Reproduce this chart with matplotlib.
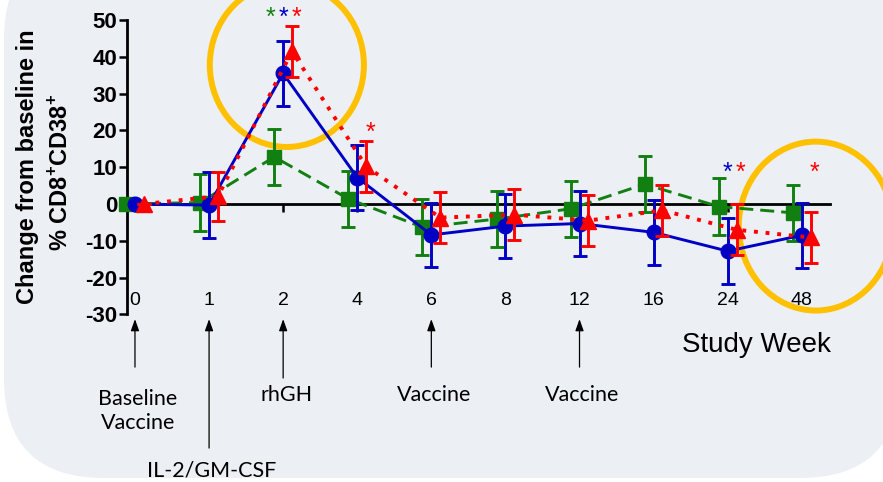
import matplotlib.pyplot as plt
from matplotlib.patches import Ellipse, FancyBboxPatch
from matplotlib.transforms import IdentityTransform, blended_transform_factory
import numpy as np

plt.rcParams['font.family'] = 'Liberation Sans'
plt.rcParams['mathtext.fontset'] = 'custom'
plt.rcParams['mathtext.rm'] = 'Liberation Sans'
plt.rcParams['mathtext.bf'] = 'Liberation Sans:bold'
plt.rcParams['axes.unicode_minus'] = False

#%% data
weeks = ['0', '1', '2', '4', '6', '8', '12', '16', '24', '48']
green_mean = [0, 0.4, 12.8, 1.4, -6.3, -4.1, -1.3, 5.4, -0.7, -2.4]
green_err = [0, 7.7, 7.6, 7.7, 7.6, 7.7, 7.6, 7.7, 7.7, 7.6]
blue_mean = [0, -0.3, 35.5, 7.2, -8.4, -6.0, -5.3, -7.7, -12.8, -8.5]
blue_err = [0, 9.0, 8.8, 8.8, 8.8, 8.8, 8.8, 8.9, 8.9, 8.9]
red_mean = [0, 2.1, 41.5, 10.2, -3.7, -2.9, -4.5, -1.7, -7.0, -9.1]
red_err = [0, 6.7, 6.9, 6.9, 6.9, 6.9, 6.9, 6.9, 6.9, 6.9]

# significance stars: week, series, level
star_weeks = ['2', '2', '2', '4', '24', '24', '48']
star_series = ['g', 'b', 'r', 'r', 'b', 'r', 'r']
star_level = [48.6, 48.6, 48.6, 17.4, 6.6, 6.6, 6.6]

# treatment annotations under the axis
ann_weeks = ['0', '1', '2', '6', '12']
ann_labels = ['Baseline\nVaccine', 'IL-2/GM-CSF', 'rhGH', 'Vaccine', 'Vaccine']

#%% plot
colors = {'g': '#118011', 'b': '#0000C4', 'r': '#FF0000'}
offsets = {'g': -0.12, 'b': 0.0, 'r': 0.12}
x = np.arange(len(weeks))

fig = plt.figure(figsize=(8.83, 4.82), dpi=100)
fig.patch.set_facecolor('white')
bg = FancyBboxPatch((4, 4), 896, 538, boxstyle='round,pad=0,rounding_size=100',
                    transform=IdentityTransform(), fc='#ECEFF4', ec='none', zorder=-10)
fig.add_artist(bg)

ax = fig.add_axes([0.1438, 0.3477, 0.7961, 0.6108])
ax.set_facecolor('none')

ax.errorbar(x + offsets['g'], green_mean, yerr=green_err, color=colors['g'], lw=2.1,
            ls=(0, (4.8, 2.4)), marker='s', ms=10, elinewidth=2.1, capsize=5, capthick=2.1,
            zorder=3, clip_on=False)
ax.errorbar(x + offsets['b'], blue_mean, yerr=blue_err, color=colors['b'], lw=2.1,
            ls='-', marker='o', ms=10.5, elinewidth=2.1, capsize=5, capthick=2.1,
            zorder=4, clip_on=False)
ax.errorbar(x + offsets['r'], red_mean, yerr=red_err, color=colors['r'], lw=2.8,
            ls=(0, (1.0, 2.0)), marker='^', ms=11.5, elinewidth=2.1, capsize=5, capthick=2.1,
            zorder=5, clip_on=False)

for w, s, lev in zip(star_weeks, star_series, star_level):
    ax.text(weeks.index(w) + offsets[s] * 1.45, lev, '*', color=colors[s], fontsize=18,
            ha='center', va='baseline', clip_on=False)

# highlight circles
ax.add_patch(Ellipse((2.05, 37.8), 2.08, 44.6, fill=False, ec='#FFC000', lw=4.3,
                     clip_on=False, zorder=2))
ax.add_patch(Ellipse((9.19, -6.0), 2.08, 45.9, fill=False, ec='#FFC000', lw=4.3,
                     clip_on=False, zorder=2))

ax.set_xlim(-0.108, 9.38)
ax.set_ylim(-30, 50)
ax.set_yticks(np.arange(-30, 51, 10))
ax.set_xticks(x)
ax.set_xticklabels(weeks)
for lab in ax.get_yticklabels():
    lab.set_fontweight('bold')
ax.tick_params(axis='y', labelsize=16, length=6, width=1.8, pad=1)
ax.tick_params(axis='x', labelsize=14, length=6, width=1.8, pad=57)
ax.spines['right'].set_visible(False)
ax.spines['top'].set_visible(False)
ax.spines['left'].set_linewidth(2)
ax.spines['bottom'].set_position(('data', 0))
ax.spines['bottom'].set_linewidth(2)
ax.spines['bottom'].set_zorder(2.5)

fig.text(28 / 883, 1 - 167 / 482, 'Change from baseline in', rotation=90, fontsize=17,
         fontweight='bold', ha='center', va='center')
fig.text(61 / 883, 1 - 172 / 482, r'% CD8$^{\mathbf{+}}$CD38$^{\mathbf{+}}$', rotation=90,
         fontsize=17, fontweight='bold', ha='center', va='center')
fig.text(756 / 883, 1 - 345 / 482, 'Study Week', fontsize=20, ha='center', va='center')

trans = blended_transform_factory(ax.transData, ax.transAxes)
tail = [-0.179, -0.454, -0.216, -0.179, -0.179]
text_y = [-0.329, -0.529, -0.274, -0.274, -0.274]
for w, lab, t0, ty in zip(ann_weeks, ann_labels, tail, text_y):
    i = weeks.index(w)
    ax.annotate('', xy=(i, -0.016), xytext=(i, t0), xycoords=trans, textcoords=trans,
                arrowprops=dict(arrowstyle='-|>,head_length=0.7,head_width=0.25',
                                color='black', lw=0.9, shrinkA=0, shrinkB=0),
                annotation_clip=False)
    ax.text(i + 0.04, ty, lab, transform=trans, ha='center', va='center', fontsize=15.5,
            family='Lato', linespacing=1.25, clip_on=False)

plt.savefig('out.png', dpi=100)
plt.close()
